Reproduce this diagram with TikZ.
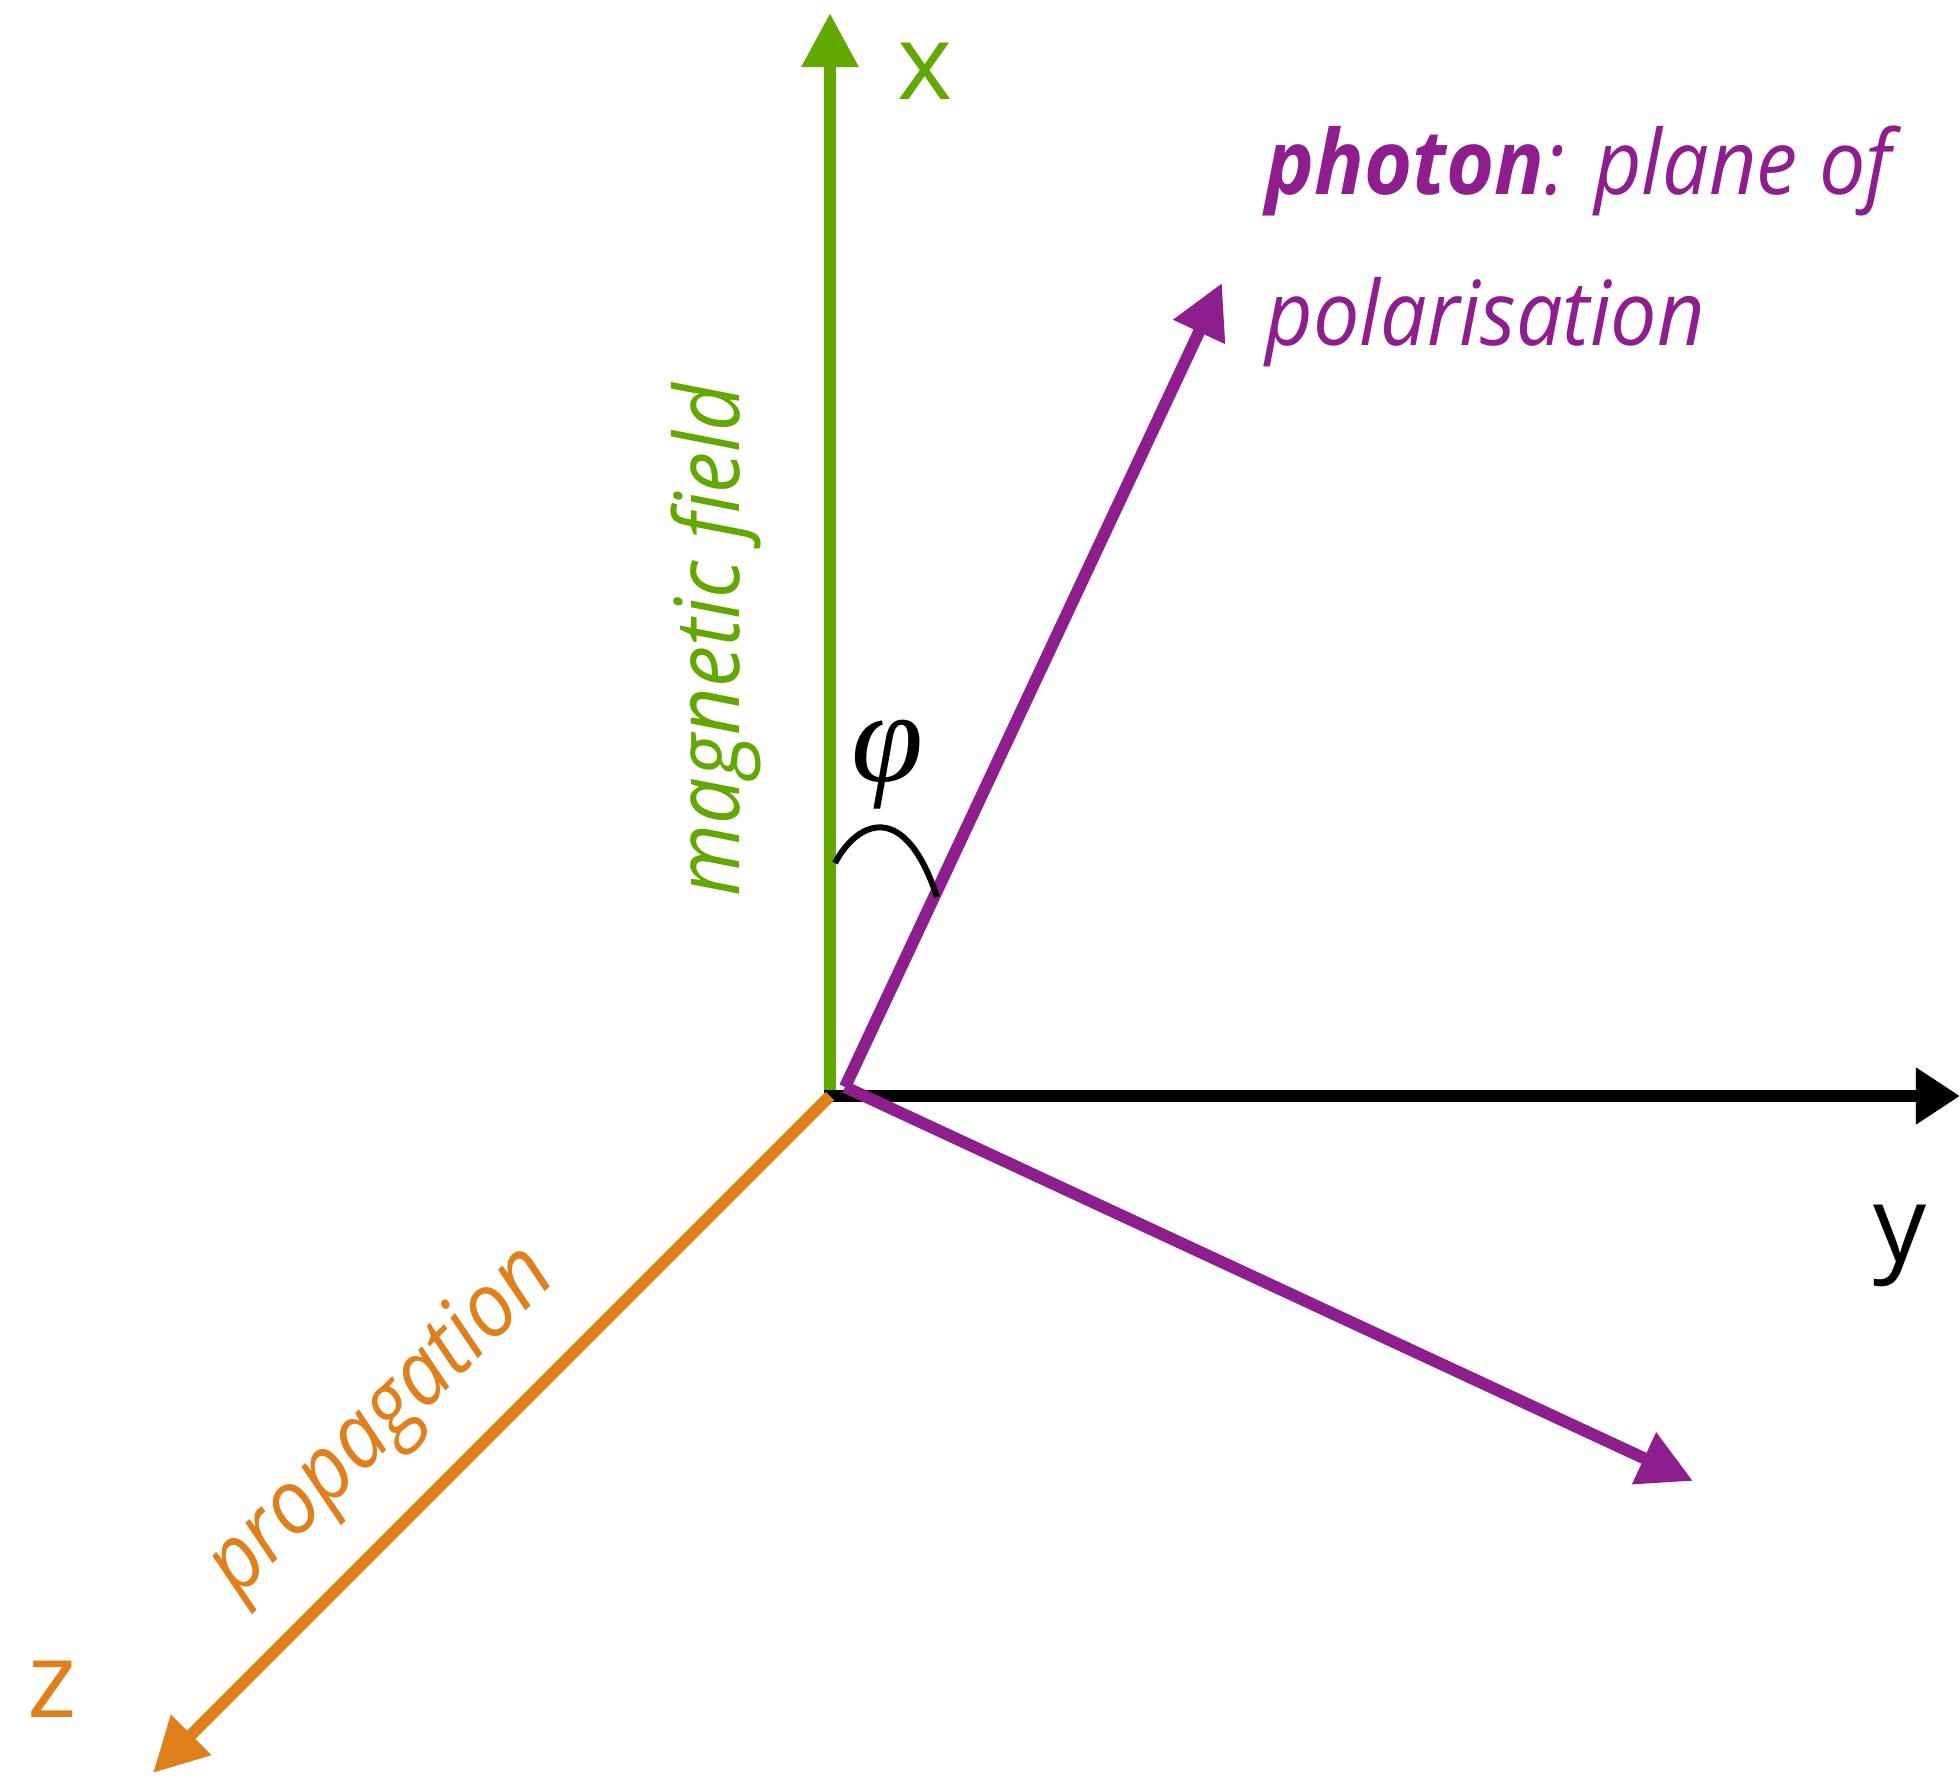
\documentclass[tikz,border=0pt]{standalone}
\usepackage{fontspec}
\setmainfont{Open Sans}
\newfontfamily\sidefont{Open Sans}[FakeStretch=0.92]
\newfontfamily\phifont{Liberation Serif}
\usepackage{amsmath}
\usetikzlibrary{arrows.meta,positioning}
\definecolor{fieldgreen}{RGB}{99,168,0}
\definecolor{photonpurple}{RGB}{142,30,142}
\definecolor{proporange}{RGB}{224,128,28}

\begin{document}
\begin{tikzpicture}[
  x=0.01cm, y=0.01cm,
  axis/.style={line width=0.12cm, -{Triangle[length=0.54cm, width=0.54cm]}},
  axislabel/.style={inner sep=0pt, anchor=base, font=\fontsize{30}{36}\selectfont},
  sidelabel/.style={inner sep=0pt, anchor=base, font=\sidefont\fontsize{25.5}{30}\selectfont\itshape}
]
\useasboundingbox (-830,-682) rectangle (1130,1096);

% axes and the plane of polarisation
\coordinate (origin) at (0,0);
\coordinate (ystart) at (-6,0);
\coordinate (xtip) at (0,1083);
\coordinate (ytip) at (1130,0);
\coordinate (ztip) at (-677,-677);
\coordinate (pstart) at (15,9);
\coordinate (ptipa) at (392,813);
\coordinate (ptipb) at (863,-385);
\coordinate (arcstart) at (5,233);
\coordinate (arcend) at (107,199);

\draw[axis, fieldgreen] (origin) -- (xtip);
\draw[axis, black, -{Triangle[length=0.44cm, width=0.54cm]}] (ystart) -- (ytip);
\draw[axis, photonpurple] (pstart) -- (ptipa);
\draw[axis, photonpurple] (pstart) -- (ptipb);
\draw[axis, proporange] (origin) -- (ztip);

% angle between field and polarisation
\draw[line width=0.06cm] (arcstart) .. controls (28,276) and (75,296) .. (arcend);
\node[inner sep=0pt, font=\phifont\fontsize{37}{40}\selectfont\itshape] (phi) at (57,331) {φ};

% labels
\node[axislabel, text=fieldgreen] (xlabel) at (95,996) {x};
\node[axislabel] (ylabel) at (1070,-165) {y};
\node[axislabel, text=proporange] (zlabel) at (-778,-621) {z};
\node[sidelabel, rotate=90, text=fieldgreen] (field) at (-90,456) {magnetic field};
\node[sidelabel, rotate=45, text=proporange] (prop) at (-432,-343) {propagation};
\node[sidelabel, anchor=base west, text=photonpurple] (photon) at (435,901) {\textbf{photon}: plane of};
\node[sidelabel, anchor=base west, text=photonpurple] (polar) at ([yshift=-1.5cm]photon.base west) {polarisation};
\end{tikzpicture}
\end{document}
